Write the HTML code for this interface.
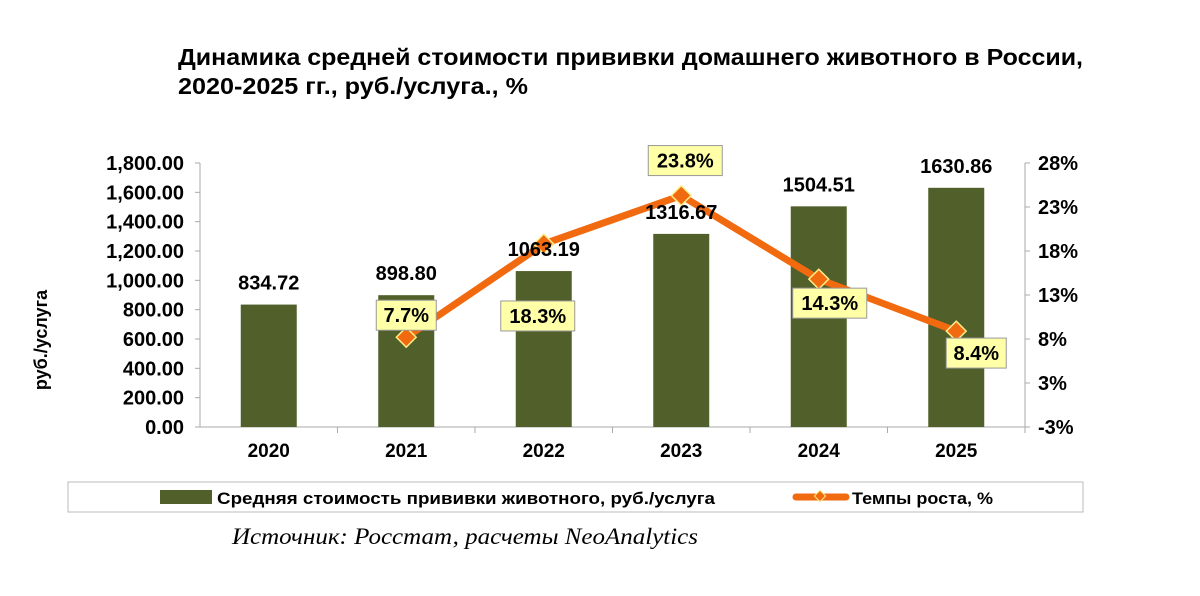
<!DOCTYPE html>
<html><head><meta charset="utf-8"><style>
body{margin:0;background:#fff;font-family:"Liberation Sans",sans-serif;}
svg text{font-family:"Liberation Sans",sans-serif;}
</style></head><body>
<svg id="c" width="1200" height="591" viewBox="0 0 1200 591">
<text x="178" y="65" font-size="23" font-weight="bold" fill="#000" textLength="905" lengthAdjust="spacingAndGlyphs">Динамика средней стоимости прививки домашнего животного в России,</text>
<text x="178" y="94" font-size="23" font-weight="bold" fill="#000" textLength="350" lengthAdjust="spacingAndGlyphs">2020-2025 гг., руб./услуга., %</text>
<text transform="translate(47,340) rotate(-90)" text-anchor="middle" font-size="18" font-weight="bold">руб./услуга</text>
<g id="axes"></g><g id="bars"></g><g id="line"></g><g id="barlabels"></g><g id="labels"></g>
<rect x="68" y="482" width="1015" height="30" fill="#fff" stroke="#bbb"/>
<rect x="160" y="490" width="52" height="14" fill="#51602a"/>
<text x="217" y="504" font-size="17" font-weight="bold" textLength="498" lengthAdjust="spacingAndGlyphs">Средняя стоимость прививки животного, руб./услуга</text>
<line x1="796" y1="497" x2="846" y2="497" stroke="#f26a10" stroke-width="7" stroke-linecap="round"/>
<rect x="816" y="492" width="8" height="8" transform="rotate(45 820 496)" fill="#f26a10" stroke="#ffee88"/>
<text x="852" y="504" font-size="17" font-weight="bold" textLength="141" lengthAdjust="spacingAndGlyphs">Темпы роста, %</text>
<text x="232" y="544" font-size="23" font-style="italic" textLength="466" lengthAdjust="spacingAndGlyphs" style="font-family:'Liberation Serif',serif">Источник: Росстат, расчеты NeoAnalytics</text>
</svg>
<script>
const categories=["2020","2021","2022","2023","2024","2025"];
const costValues=[834.72,898.80,1063.19,1316.67,1504.51,1630.86];
const costLabels=["834.72","898.80","1063.19","1316.67","1504.51","1630.86"];
const growthYears=["2021","2022","2023","2024","2025"];
const growthValues=[7.7,18.3,23.8,14.3,8.4];
const growthLabels=["7.7%","18.3%","23.8%","14.3%","8.4%"];
const leftTicks=[0,200,400,600,800,1000,1200,1400,1600,1800];
const rightTicks=[-2.5,2.5,7.5,12.5,17.5,22.5,27.5];
const rightTickLabels=["-3%","3%","8%","13%","18%","23%","28%"];
const NS="http://www.w3.org/2000/svg";
const X0=200,X1=1025,Y0=427,Y1=163;
const RMIN=-2.5,RMAX=27.5;
const bw=(X1-X0)/categories.length;
const xC=c=>X0+bw*(categories.indexOf(c)+0.5);
const yL=v=>Y0-(v/1800)*(Y0-Y1);
const yR=v=>Y0-((v-RMIN)/(RMAX-RMIN))*(Y0-Y1);
function mk(t,a,p){const e=document.createElementNS(NS,t);for(const k in a)e.setAttribute(k,a[k]);p.appendChild(e);return e;}
const ax=document.getElementById('axes');
let e=mk('line',{x1:X0,y1:Y1,x2:X0,y2:Y0,stroke:'#aaa'},ax);


e=mk('line',{x1:X1,y1:Y1,x2:X1,y2:Y0+4,stroke:'#aaa'},ax);


e=mk('line',{x1:X0-4,y1:Y0,x2:X1,y2:Y0,stroke:'#aaa'},ax);


leftTicks.forEach(v=>{const y=yL(v);mk('line',{x1:X0-5,y1:y,x2:X0,y2:y,stroke:'#aaa'},ax);
const t=mk('text',{x:X0-16,y:y+7,'text-anchor':'end','font-size':20,'font-weight':'bold'},ax);
t.textContent=v.toLocaleString('en-US',{minimumFractionDigits:2});

});
rightTicks.forEach((v,i)=>{const y=yR(v);mk('line',{x1:X1,y1:y,x2:X1+5,y2:y,stroke:'#aaa'},ax);
const t=mk('text',{x:X1+13,y:y+7,'font-size':20,'font-weight':'bold'},ax);
t.textContent=rightTickLabels[i];

});
categories.forEach((c,i)=>{const x=X0+bw*(i+1);mk('line',{x1:x,y1:Y0,x2:x,y2:Y0+6,stroke:'#aaa'},ax);
const t=mk('text',{x:xC(c),y:Y0+30,'text-anchor':'middle','font-size':19,'font-weight':'bold'},ax);
t.textContent=c;

});
const bg=document.getElementById('bars');
const bl=document.getElementById('barlabels');
categories.forEach((c,i)=>{const y=yL(costValues[i]);
const r=mk('rect',{x:xC(c)-28,y:y,width:56,height:Y0-y,fill:'#51602a'},bg);


const t=mk('text',{x:xC(c),y:y-15,'text-anchor':'middle','font-size':20,'font-weight':'bold'},bl);
t.textContent=costLabels[i];

});
const lg=document.getElementById('line');
const pts=growthYears.map((c,i)=>[xC(c),yR(growthValues[i])]);
const pl=mk('polyline',{points:pts.map(p=>p.join(',')).join(' '),fill:'none',stroke:'#f26a10','stroke-width':7,'stroke-linejoin':'round'},lg);


pts.forEach((p,i)=>{const m=mk('rect',{x:p[0]-7,y:p[1]-7,width:14,height:14,transform:`rotate(45 ${p[0]} ${p[1]})`,fill:'#f26a10',stroke:'#ffee88','stroke-width':1.5},lg);

});
const lb=document.getElementById('labels');
const offs=[[0,-22],[-6,72],[4,-35],[11,24],[20,22]];
pts.forEach((p,i)=>{const cx=p[0]+offs[i][0],cy=p[1]+offs[i][1];
const w=growthLabels[i].length>4?74:60;
const r=mk('rect',{x:cx-w/2,y:cy-15,width:w,height:30,fill:'#ffffa8',stroke:'#999'},lb);


const t=mk('text',{x:cx,y:cy+7,'text-anchor':'middle','font-size':20,'font-weight':'bold'},lb);
t.textContent=growthLabels[i];

});
</script>
</body></html>
